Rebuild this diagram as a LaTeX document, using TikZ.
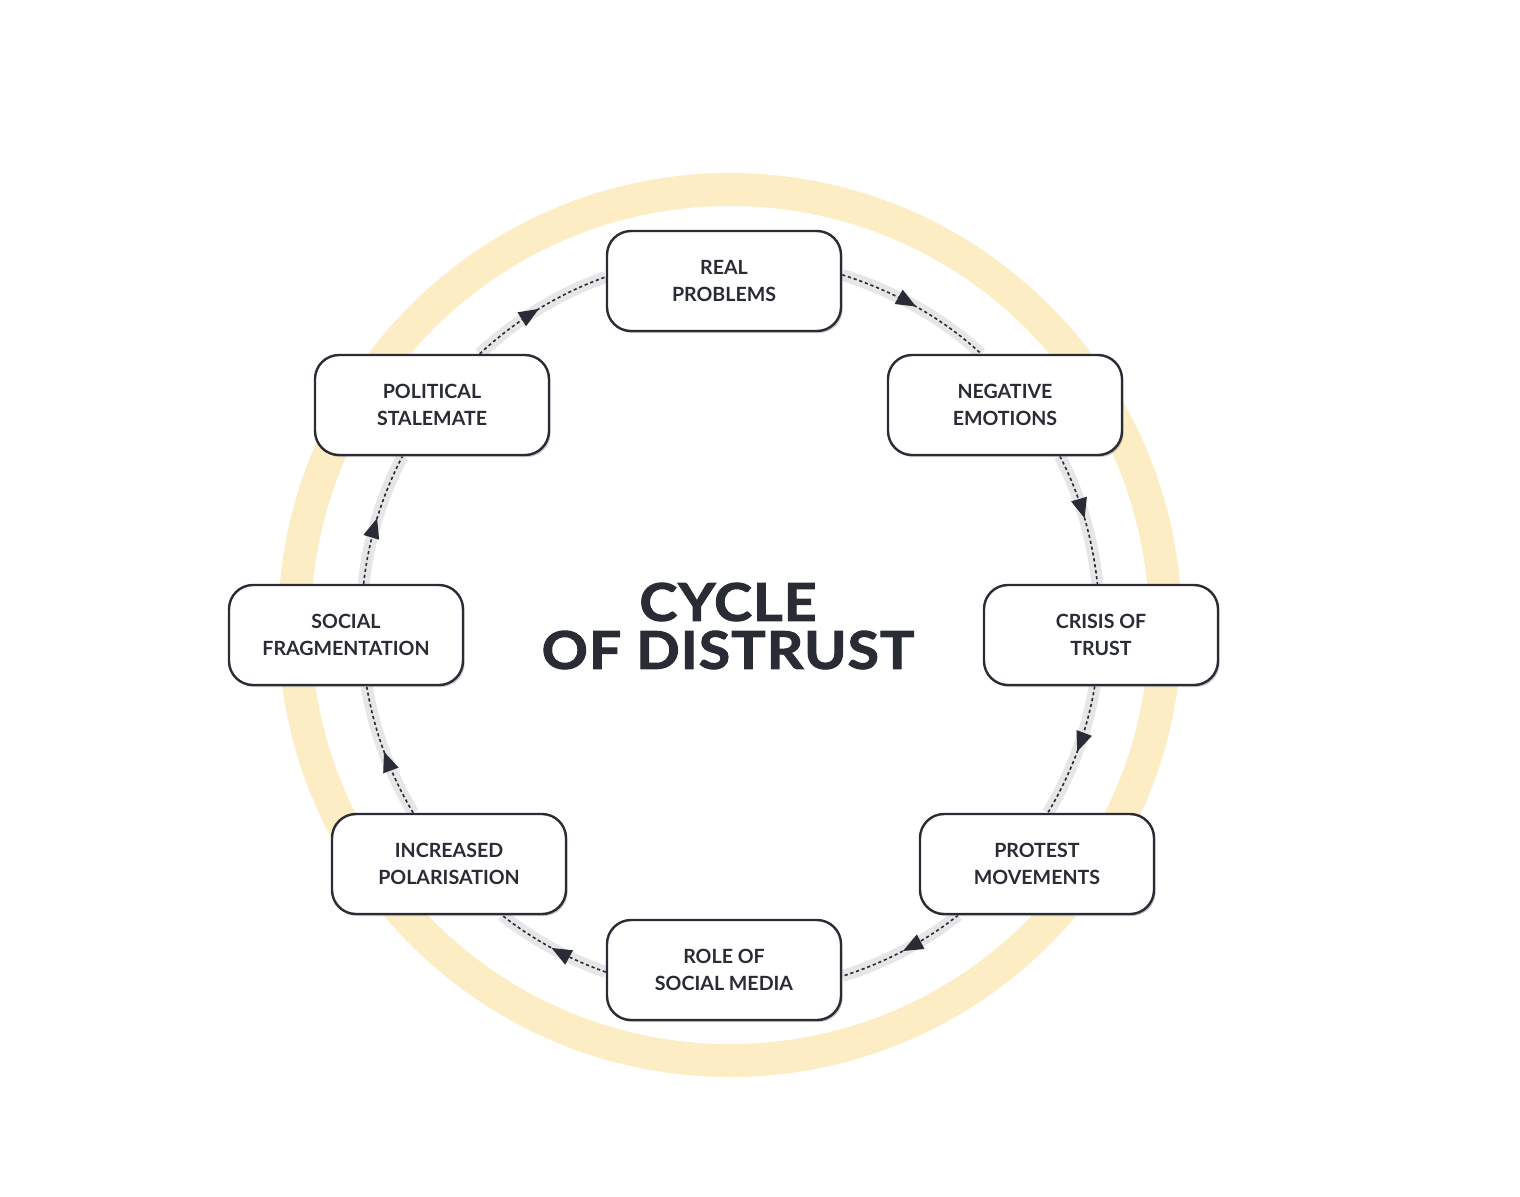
\documentclass[tikz,border=0pt]{standalone}
\usepackage{fontspec}
\setmainfont{Lato}
\newfontfamily\titlefont{Lato}[FakeBold=2,FakeStretch=1.1,LetterSpace=2]
\usetikzlibrary{shadows,arrows.meta,decorations.markings,backgrounds}
\definecolor{ink}{HTML}{2A2C35}
\definecolor{ringcol}{HTML}{FDEDC5}
\definecolor{bandcol}{HTML}{E6E6E6}
\begin{document}
\begin{tikzpicture}[x=0.5pt,y=0.5pt,
  box/.style={draw=ink, line width=1.2pt, fill=white, rounded corners=12pt,
    minimum width=117pt, minimum height=50pt, align=center, text=ink,
    font=\bfseries\fontsize{9.8}{13.5}\selectfont,
    drop shadow={shadow xshift=0.8pt, shadow yshift=-1pt, fill=black!45, opacity=0.5}},
  flow/.style={draw=ink, line width=0.8pt, dash pattern=on 1.6pt off 1.4pt, looseness=0.86,
    preaction={draw=bandcol, line width=6pt, solid},
    postaction={decorate, decoration={markings, mark=at position 0.5 with {\arrow[ink]{Triangle[length=10pt,width=8pt]}}}}},
  titlestyle/.style={align=center, text=ink, font=\titlefont\bfseries\fontsize{26}{24}\selectfont}
]
\useasboundingbox (0,0) rectangle (1520,-1196);

\node[box] (rp) at (724,-281) {REAL\\PROBLEMS};
\node[box] (ne) at (1005,-405) {NEGATIVE\\EMOTIONS};
\node[box] (ct) at (1101,-635) {CRISIS OF\\TRUST};
\node[box] (pm) at (1037,-864) {PROTEST\\MOVEMENTS};
\node[box] (rs) at (724,-970) {ROLE OF\\SOCIAL MEDIA};
\node[box] (ip) at (449,-864) {INCREASED\\POLARISATION};
\node[box] (sf) at (346,-635) {SOCIAL\\FRAGMENTATION};
\node[box] (ps) at (432,-405) {POLITICAL\\STALEMATE};

\node[titlestyle] (title) at (728,-626) {CYCLE\\OF DISTRUST};

\begin{pgfonlayer}{background}
\draw[ringcol, line width=16.5pt] (730,-625) circle[radius=435.5];
\draw[flow] (rp.3.9) to[out=-17.5,in=137] (ne.115.2);
\draw[flow] (ne.-43.6) to[out=-62.6,in=96.2] (ct.94.8);
\draw[flow] (ct.-97.9) to[out=-99.4,in=59.2] (pm.78.8);
\draw[flow] (pm.-147.2) to[out=-141.6,in=17.5] (rs.-3.4);
\draw[flow] (rs.181.4) to[out=160.5,in=-38.4] (ip.-44.1);
\draw[flow] (ip.125.7) to[out=120.8,in=-80.6] (sf.-68.3);
\draw[flow] (sf.71) to[out=83.8,in=242.6] (ps.-120.5);
\draw[flow] (ps.47.1) to[out=43,in=199.5] (rp.178.1);
\end{pgfonlayer}
\end{tikzpicture}
\end{document}
